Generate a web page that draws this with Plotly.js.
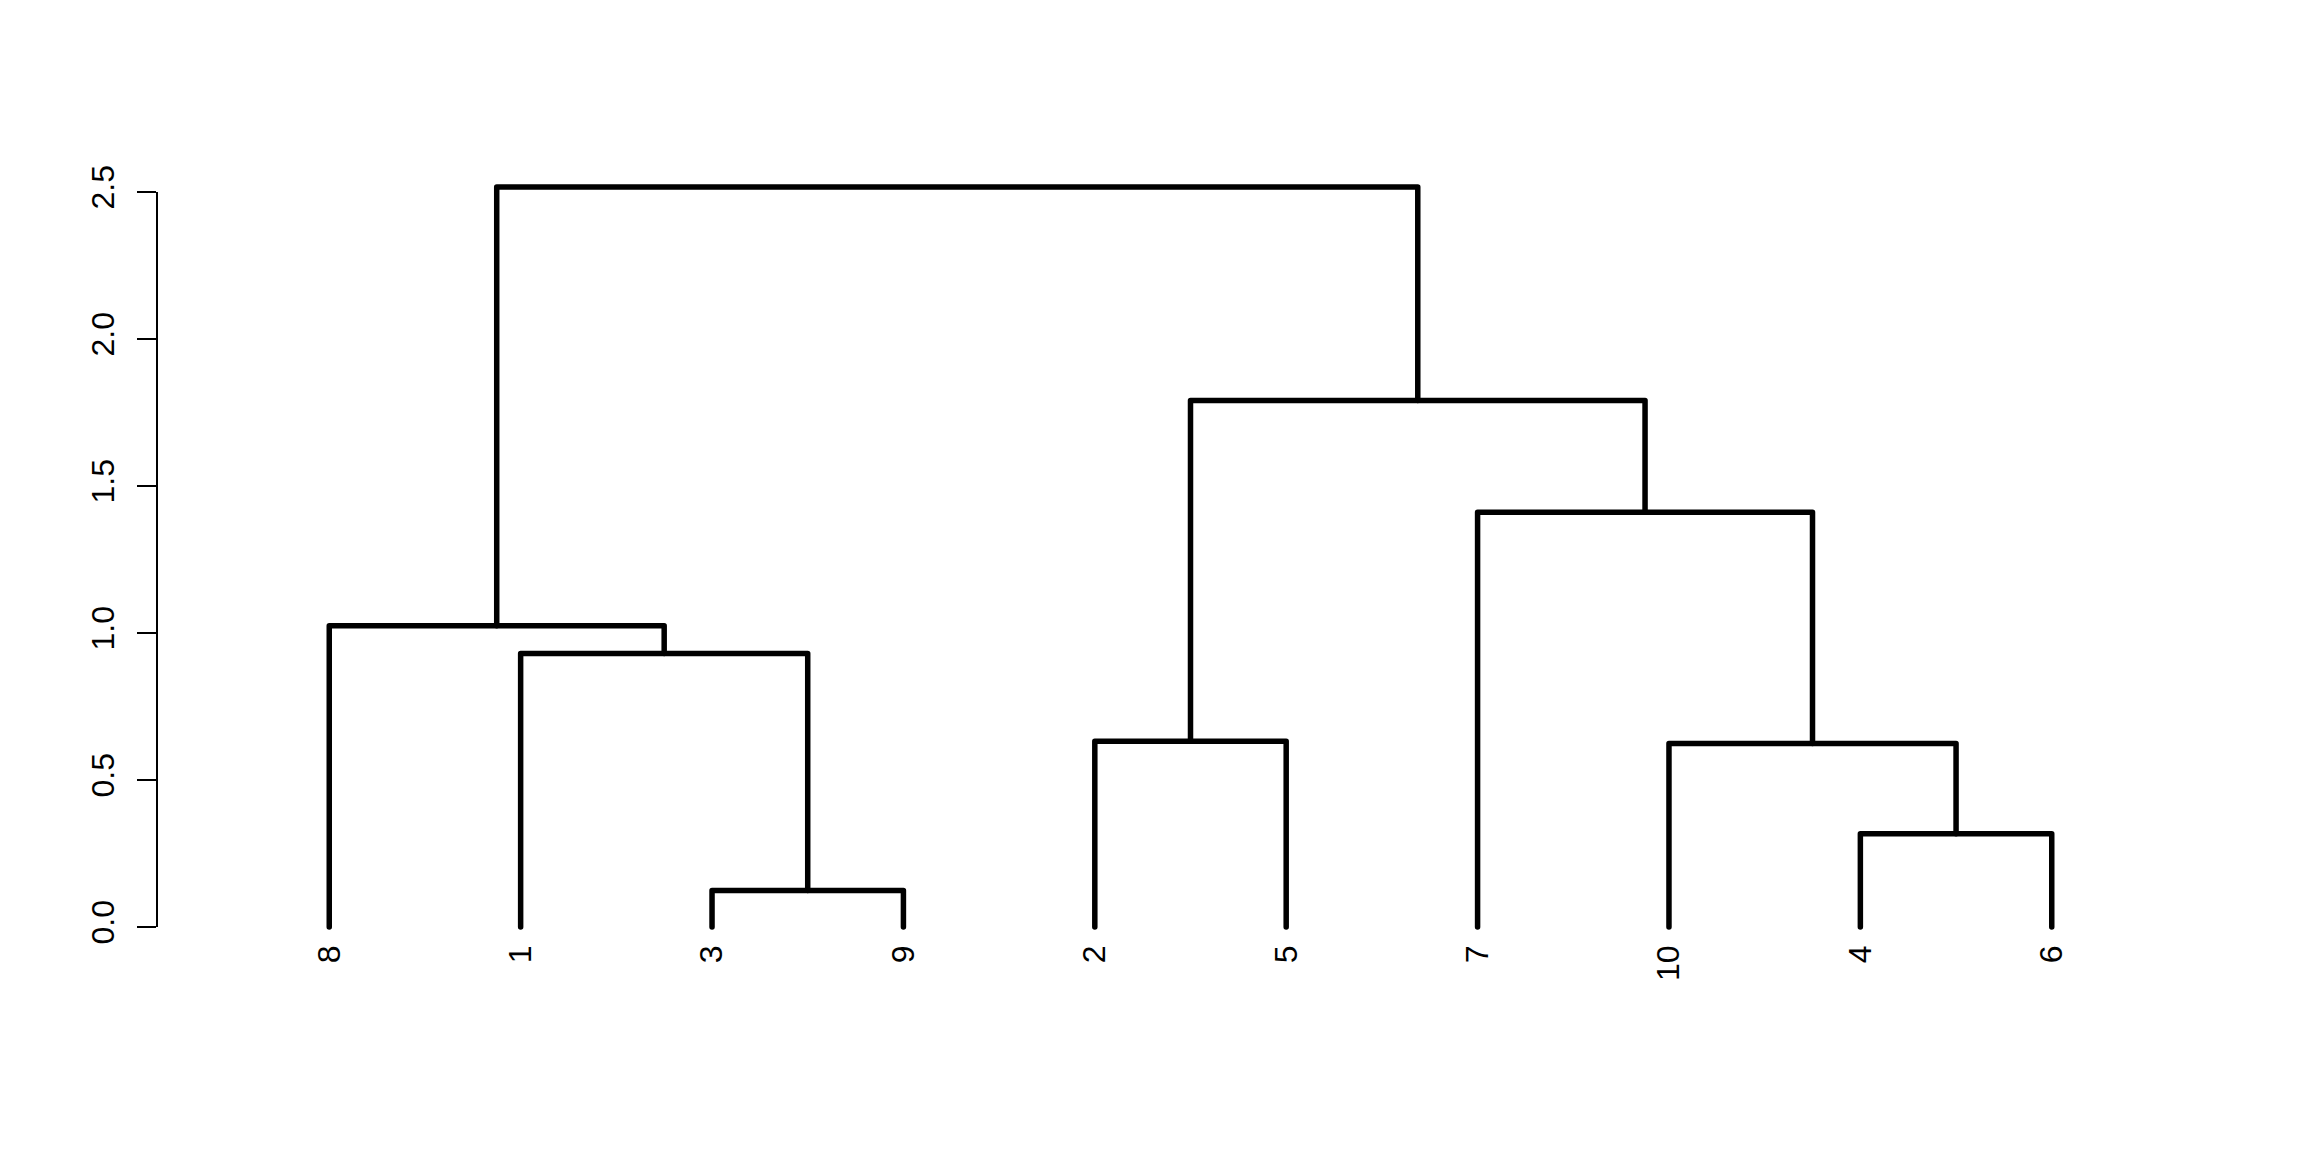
<!DOCTYPE html>
<html>
<head>
<meta charset="utf-8">
<script src="https://cdn.plot.ly/plotly-3.0.1.min.js"></script>
<style>
  html, body { margin: 0; padding: 0; background: #ffffff; }
  #chart { width: 2304px; height: 1152px; }
  .scatterlayer path.js-line { stroke-linecap: round !important; stroke-linejoin: round !important; }
</style>
</head>
<body>
<div id="chart"></div>
<script>
// Observation labels in their left-to-right drawing order
const leafLabels = ['8', '1', '3', '9', '2', '5', '7', '10', '4', '6'];

// Merge steps (hclust convention: negative = observation, positive = earlier merge step)
const mergeLeft  = [-3, -4, -10, -2, -1, -8, -7, 4, 6];
const mergeRight = [-9, -6,   2, -5,  1,  5,  3, 7, 8];
const mergeHeight = [0.124, 0.317, 0.624, 0.632, 0.930, 1.025, 1.411, 1.791, 2.517];

// Y axis tick values
const yTicks = [0, 0.5, 1, 1.5, 2, 2.5];
const yTickText = ['0.0', '0.5', '1.0', '1.5', '2.0', '2.5'];

// Horizontal slot of each observation, from the label order
const slotOf = {};
leafLabels.forEach((lab, i) => { slotOf[lab] = i + 1; });

// Position (x) and height (y) of each node; leaves hang down to 0
const nodeX = [], nodeY = [];
function nodePos(ref) {
  if (ref < 0) return [slotOf[String(-ref)], 0];
  return [nodeX[ref - 1], nodeY[ref - 1]];
}

const segX = [], segY = [];
for (let k = 0; k < mergeHeight.length; k++) {
  const [xl, yl] = nodePos(mergeLeft[k]);
  const [xr, yr] = nodePos(mergeRight[k]);
  const h = mergeHeight[k];
  segX.push(xl, xl, xr, xr, null);
  segY.push(yl, h, h, yr, null);
  nodeX.push((xl + xr) / 2);
  nodeY.push(h);
}

const font = { family: 'Liberation Sans, Arial, Helvetica, sans-serif', size: 32, color: '#000000' };

const trace = {
  type: 'scatter',
  mode: 'lines',
  x: segX,
  y: segY,
  connectgaps: false,
  line: { color: '#000000', width: 5.5 },
  hoverinfo: 'skip',
  showlegend: false
};

const layout = {
  width: 2304,
  height: 1152,
  paper_bgcolor: '#ffffff',
  plot_bgcolor: '#ffffff',
  margin: { l: 157, r: 80, t: 157, b: 220 },
  showlegend: false,
  font: font,
  xaxis: {
    range: [0.1, 10.9],
    tickmode: 'array',
    tickvals: leafLabels.map((_, i) => i + 1),
    ticktext: leafLabels,
    tickangle: -90,
    ticks: '',
    ticklabelstandoff: 6,
    showline: false,
    showgrid: false,
    zeroline: false,
    automargin: false,
    fixedrange: true,
    tickfont: font
  },
  yaxis: {
    range: [-0.017, 2.619],
    tickmode: 'array',
    tickvals: yTicks,
    ticktext: yTickText,
    tickangle: -90,
    ticks: 'outside',
    ticklen: 19,
    tickwidth: 2,
    tickcolor: '#000000',
    ticklabelstandoff: 10,
    showline: false,
    showgrid: false,
    zeroline: false,
    automargin: false,
    fixedrange: true,
    tickfont: font
  },
  shapes: [
    {
      type: 'line',
      xref: 'paper', yref: 'y',
      x0: 0, x1: 0, y0: yTicks[0], y1: yTicks[yTicks.length - 1],
      line: { color: '#000000', width: 2 }
    }
  ]
};

Plotly.newPlot('chart', [trace], layout, { displayModeBar: false, staticPlot: true });
</script>
</body>
</html>
